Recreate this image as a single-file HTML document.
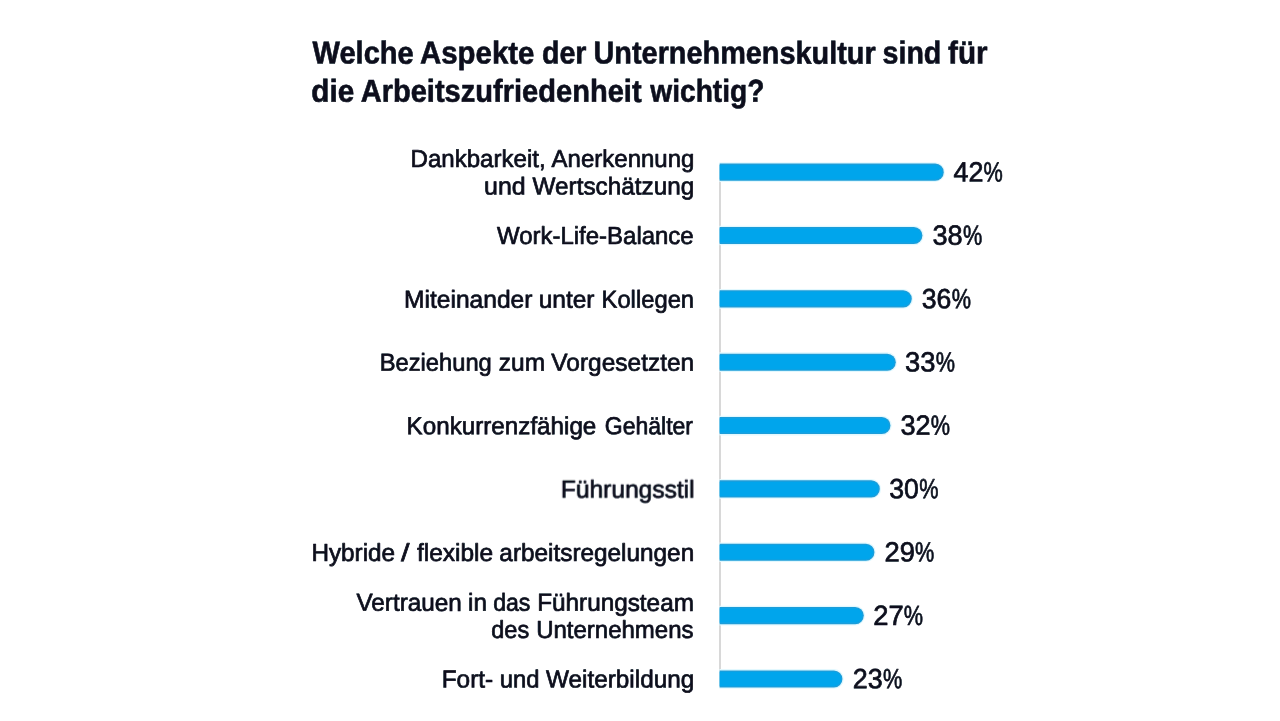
<!DOCTYPE html>
<html lang="de">
<head>
<meta charset="utf-8">
<title>Unternehmenskultur und Arbeitszufriedenheit</title>
<style>
html,body{margin:0;padding:0;background:#ffffff;}
body{width:1280px;height:721px;position:relative;overflow:hidden;}
svg{position:absolute;left:0;top:0;display:block;}
text{font-family:"Liberation Sans",sans-serif;fill:#090e1c;stroke:#090e1c;stroke-linejoin:round;text-rendering:geometricPrecision;white-space:pre;}
.b{font-weight:bold;stroke-width:0.60px;}
.n{font-weight:normal;stroke-width:0.70px;}
</style>
</head>
<body>
<svg width="1280" height="721" viewBox="0 0 1280 721">
<defs><filter id="soft" x="-2%" y="-2%" width="104%" height="104%"><feGaussianBlur stdDeviation="0.30"/></filter></defs>
<rect width="1280" height="721" fill="#ffffff"/>
<g filter="url(#soft)">
<!-- axis -->
<rect x="719.2" y="164.10" width="1.6" height="523.40" fill="#cfcfcf"/>
<!-- bars -->
<path d="M720.70 163.60H935.21A8.55 8.55 0 0 1 935.21 180.70H720.70Z" fill="none" stroke="#e2f8fe" stroke-width="2.6"/>
<path d="M719.70 163.60H935.21A8.55 8.55 0 0 1 935.21 180.70H719.70Z" fill="#1e9dd9"/>
<path d="M719.70 164.90H935.21A7.25 7.25 0 0 1 935.21 179.40H719.70Z" fill="#03a5ec"/>
<path d="M720.70 226.95H913.89A8.55 8.55 0 0 1 913.89 244.05H720.70Z" fill="none" stroke="#e2f8fe" stroke-width="2.6"/>
<path d="M719.70 226.95H913.89A8.55 8.55 0 0 1 913.89 244.05H719.70Z" fill="#1e9dd9"/>
<path d="M719.70 228.25H913.89A7.25 7.25 0 0 1 913.89 242.75H719.70Z" fill="#03a5ec"/>
<path d="M720.70 290.30H903.23A8.55 8.55 0 0 1 903.23 307.40H720.70Z" fill="none" stroke="#e2f8fe" stroke-width="2.6"/>
<path d="M719.70 290.30H903.23A8.55 8.55 0 0 1 903.23 307.40H719.70Z" fill="#1e9dd9"/>
<path d="M719.70 291.60H903.23A7.25 7.25 0 0 1 903.23 306.10H719.70Z" fill="#03a5ec"/>
<path d="M720.70 353.65H887.24A8.55 8.55 0 0 1 887.24 370.75H720.70Z" fill="none" stroke="#e2f8fe" stroke-width="2.6"/>
<path d="M719.70 353.65H887.24A8.55 8.55 0 0 1 887.24 370.75H719.70Z" fill="#1e9dd9"/>
<path d="M719.70 354.95H887.24A7.25 7.25 0 0 1 887.24 369.45H719.70Z" fill="#03a5ec"/>
<path d="M720.70 417.00H881.91A8.55 8.55 0 0 1 881.91 434.10H720.70Z" fill="none" stroke="#e2f8fe" stroke-width="2.6"/>
<path d="M719.70 417.00H881.91A8.55 8.55 0 0 1 881.91 434.10H719.70Z" fill="#1e9dd9"/>
<path d="M719.70 418.30H881.91A7.25 7.25 0 0 1 881.91 432.80H719.70Z" fill="#03a5ec"/>
<path d="M720.70 480.35H871.25A8.55 8.55 0 0 1 871.25 497.45H720.70Z" fill="none" stroke="#e2f8fe" stroke-width="2.6"/>
<path d="M719.70 480.35H871.25A8.55 8.55 0 0 1 871.25 497.45H719.70Z" fill="#1e9dd9"/>
<path d="M719.70 481.65H871.25A7.25 7.25 0 0 1 871.25 496.15H719.70Z" fill="#03a5ec"/>
<path d="M720.70 543.70H865.92A8.55 8.55 0 0 1 865.92 560.80H720.70Z" fill="none" stroke="#e2f8fe" stroke-width="2.6"/>
<path d="M719.70 543.70H865.92A8.55 8.55 0 0 1 865.92 560.80H719.70Z" fill="#1e9dd9"/>
<path d="M719.70 545.00H865.92A7.25 7.25 0 0 1 865.92 559.50H719.70Z" fill="#03a5ec"/>
<path d="M720.70 607.05H855.26A8.55 8.55 0 0 1 855.26 624.15H720.70Z" fill="none" stroke="#e2f8fe" stroke-width="2.6"/>
<path d="M719.70 607.05H855.26A8.55 8.55 0 0 1 855.26 624.15H719.70Z" fill="#1e9dd9"/>
<path d="M719.70 608.35H855.26A7.25 7.25 0 0 1 855.26 622.85H719.70Z" fill="#03a5ec"/>
<path d="M720.70 670.40H833.94A8.55 8.55 0 0 1 833.94 687.50H720.70Z" fill="none" stroke="#e2f8fe" stroke-width="2.6"/>
<path d="M719.70 670.40H833.94A8.55 8.55 0 0 1 833.94 687.50H719.70Z" fill="#1e9dd9"/>
<path d="M719.70 671.70H833.94A7.25 7.25 0 0 1 833.94 686.20H719.70Z" fill="#03a5ec"/>
<!-- text -->
<text class="b" font-size="31.72" transform="matrix(0.9171 0.0005 0 1 312.48 63.58)">Welche</text>
<text class="b" font-size="31.72" transform="matrix(0.9269 0.0005 0 1 420.00 63.58)">Aspekte</text>
<text class="b" font-size="31.72" transform="matrix(0.9020 0.0005 0 1 541.93 63.60)">der</text>
<text class="b" font-size="31.72" transform="matrix(0.9094 0.0005 0 1 593.54 63.53)">Unternehmenskultur</text>
<text class="b" font-size="31.72" transform="matrix(0.9016 0.0005 0 1 882.53 63.59)">sind</text>
<text class="b" font-size="31.72" transform="matrix(0.9347 0.0005 0 1 948.09 63.60)">für</text>
<text class="b" font-size="31.72" transform="matrix(0.9353 0.0005 0 1 311.29 101.80)">die</text>
<text class="b" font-size="31.72" transform="matrix(0.9161 0.0005 0 1 360.65 101.73)">Arbeitszufriedenheit</text>
<text class="b" font-size="31.72" transform="matrix(0.8873 0.0005 0 1 650.27 101.78)">wichtig?</text>
<text class="n" font-size="24.48" transform="matrix(0.9835 0.0005 0 1 410.52 166.94)">Dankbarkeit,</text>
<text class="n" font-size="24.48" transform="matrix(0.9808 0.0005 0 1 551.59 166.93)">Anerkennung</text>
<text class="n" font-size="24.48" transform="matrix(1.0197 0.0005 0 1 484.11 194.46)">und</text>
<text class="n" font-size="24.48" transform="matrix(0.9928 0.0005 0 1 532.60 194.43)">Wertschätzung</text>
<text class="n" font-size="24.62" transform="matrix(0.9738 0.0005 0 1 497.00 243.92)">Work-Life-Balance</text>
<text class="n" font-size="24.62" transform="matrix(0.9991 0.0005 0 1 403.98 307.64)">Miteinander</text>
<text class="n" font-size="24.62" transform="matrix(0.9959 0.0005 0 1 538.63 307.66)">unter</text>
<text class="n" font-size="24.62" transform="matrix(0.9663 0.0005 0 1 601.53 307.65)">Kollegen</text>
<text class="n" font-size="24.62" transform="matrix(0.9641 0.0005 0 1 379.64 370.64)">Beziehung</text>
<text class="n" font-size="24.62" transform="matrix(0.9960 0.0005 0 1 498.77 370.66)">zum</text>
<text class="n" font-size="24.62" transform="matrix(0.9946 0.0005 0 1 551.35 370.63)">Vorgesetzten</text>
<text class="n" font-size="24.62" transform="matrix(0.9835 0.0005 0 1 406.61 434.22)">Konkurrenzfähige</text>
<text class="n" font-size="24.62" transform="matrix(0.9345 0.0005 0 1 604.78 434.25)">Gehälter</text>
<text class="n" font-size="24.62" transform="matrix(0.9977 0.0005 0 1 560.83 497.64)">Führungsstil</text>
<text class="n" font-size="24.62" transform="matrix(0.9873 0.0005 0 1 311.40 560.95)">Hybride</text>
<text class="n" font-size="24.62" transform="matrix(1.2378 0.0005 0 1 401.03 560.97)">/</text>
<text class="n" font-size="24.62" transform="matrix(0.9942 0.0005 0 1 417.00 560.95)">flexible</text>
<text class="n" font-size="24.62" transform="matrix(0.9887 0.0005 0 1 499.37 560.92)">arbeitsregelungen</text>
<text class="n" font-size="24.62" transform="matrix(0.9868 0.0005 0 1 356.50 610.84)">Vertrauen</text>
<text class="n" font-size="24.62" transform="matrix(0.9843 0.0005 0 1 468.05 610.87)">in</text>
<text class="n" font-size="24.62" transform="matrix(0.9387 0.0005 0 1 493.15 610.86)">das</text>
<text class="n" font-size="24.62" transform="matrix(0.9880 0.0005 0 1 537.15 610.83)">Führungsteam</text>
<text class="n" font-size="24.62" transform="matrix(0.9542 0.0005 0 1 491.29 637.96)">des</text>
<text class="n" font-size="24.62" transform="matrix(0.9748 0.0005 0 1 536.17 637.93)">Unternehmens</text>
<text class="n" font-size="24.62" transform="matrix(0.9900 0.0005 0 1 441.70 687.56)">Fort-</text>
<text class="n" font-size="24.62" transform="matrix(0.9669 0.0005 0 1 499.67 687.56)">und</text>
<text class="n" font-size="24.62" transform="matrix(0.9871 0.0005 0 1 546.10 687.53)">Weiterbildung</text>
<text class="n" font-size="27.82" transform="matrix(0.9685 0.0005 0 1 953.40 181.46)">42</text>
<text class="n" font-size="27.82" transform="matrix(0.7790 0.0005 0 1 983.51 181.46)">%</text>
<text class="n" font-size="27.82" transform="matrix(0.9743 0.0005 0 1 932.51 244.81)">38</text>
<text class="n" font-size="27.82" transform="matrix(0.7790 0.0005 0 1 963.06 244.81)">%</text>
<text class="n" font-size="27.82" transform="matrix(0.9573 0.0005 0 1 921.77 308.16)">36</text>
<text class="n" font-size="27.82" transform="matrix(0.7790 0.0005 0 1 951.81 308.16)">%</text>
<text class="n" font-size="27.82" transform="matrix(0.9828 0.0005 0 1 905.00 371.51)">33</text>
<text class="n" font-size="27.82" transform="matrix(0.7790 0.0005 0 1 935.81 371.51)">%</text>
<text class="n" font-size="27.82" transform="matrix(0.9750 0.0005 0 1 900.51 434.86)">32</text>
<text class="n" font-size="27.82" transform="matrix(0.7790 0.0005 0 1 930.81 434.86)">%</text>
<text class="n" font-size="27.82" transform="matrix(0.9573 0.0005 0 1 889.27 498.21)">30</text>
<text class="n" font-size="27.82" transform="matrix(0.7790 0.0005 0 1 919.31 498.21)">%</text>
<text class="n" font-size="27.82" transform="matrix(0.9844 0.0005 0 1 884.48 561.56)">29</text>
<text class="n" font-size="27.82" transform="matrix(0.7790 0.0005 0 1 915.06 561.56)">%</text>
<text class="n" font-size="27.82" transform="matrix(0.9844 0.0005 0 1 873.23 624.91)">27</text>
<text class="n" font-size="27.82" transform="matrix(0.7790 0.0005 0 1 903.81 624.91)">%</text>
<text class="n" font-size="27.82" transform="matrix(0.9664 0.0005 0 1 852.74 688.26)">23</text>
<text class="n" font-size="27.82" transform="matrix(0.7790 0.0005 0 1 883.06 688.26)">%</text>
</g>
</svg>
</body>
</html>
